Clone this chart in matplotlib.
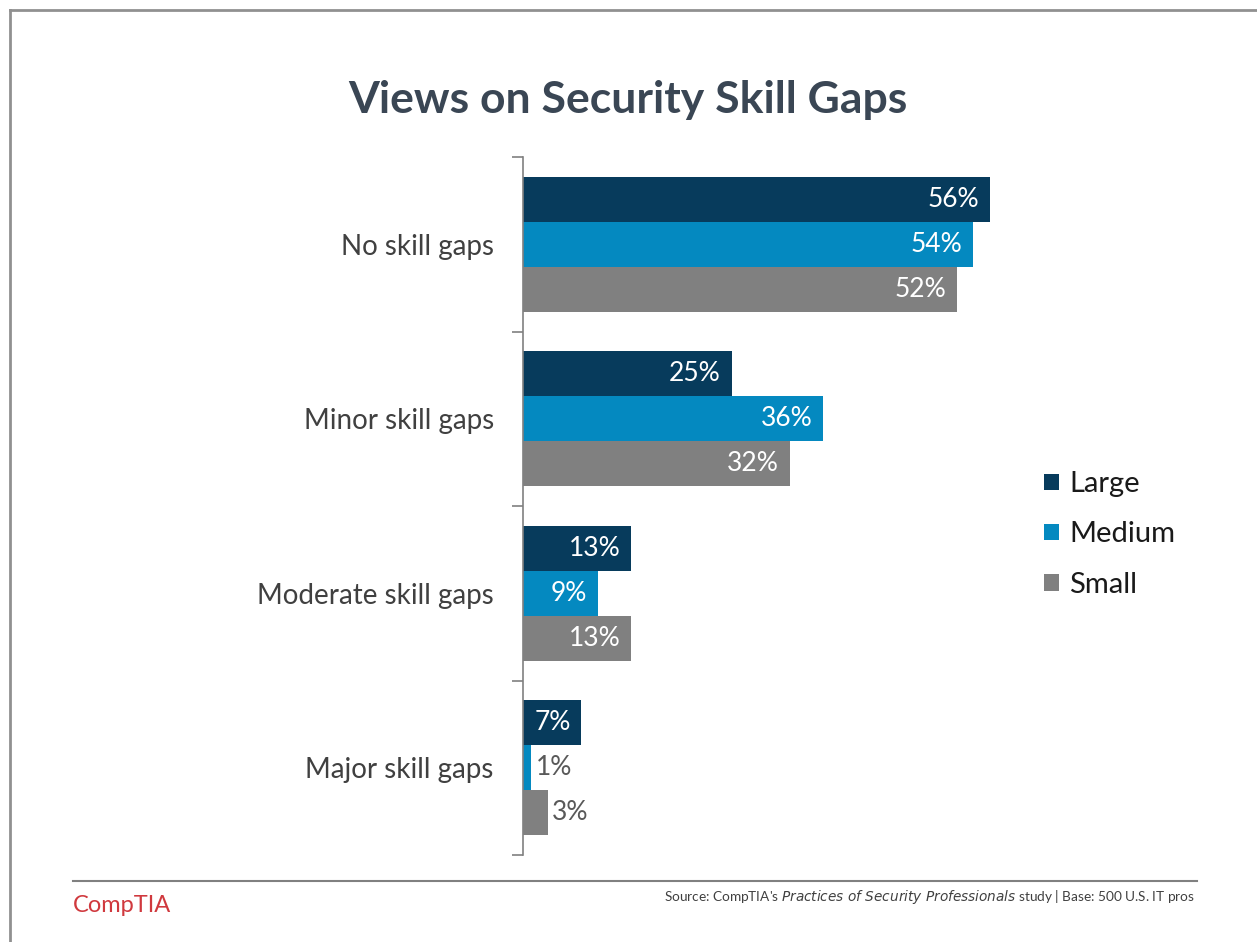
import matplotlib
matplotlib.use("Agg")
import matplotlib.pyplot as plt
import numpy as np
from matplotlib.lines import Line2D
from matplotlib.patches import Patch

plt.rcParams['font.family'] = ['Lato', 'DejaVu Sans']

categories = ["No skill gaps", "Minor skill gaps", "Moderate skill gaps", "Major skill gaps"]
series = ["Large", "Medium", "Small"]
large = [56, 25, 13, 7]
medium = [54, 36, 9, 1]
small = [52, 32, 13, 3]
colors = ["#073b5c", "#0489c0", "#808080"]

W, H = 1257, 942
fig = plt.figure(figsize=(W / 100, H / 100), dpi=100)

# axes placed in pixel terms of the reference
ax = fig.add_axes([523 / W, 1 - 855 / H, 480 / W, (855 - 157) / H])

n = len(categories)
y = np.arange(n)
bh = 0.258
vals = [large, medium, small]
for i, (name, v, c) in enumerate(zip(series, vals, colors)):
    pos = y - bh + i * bh
    bars = ax.barh(pos, v, height=bh, color=c, label=name)
    for b, val in zip(bars, v):
        if val >= 5:
            ax.text(b.get_width() - 1.3, b.get_y() + b.get_height() / 2, f"{val}%",
                    ha="right", va="center", color="white", fontsize=19)
        else:
            ax.text(b.get_width() + 0.5, b.get_y() + b.get_height() / 2, f"{val}%",
                    ha="left", va="center", color="#595959", fontsize=19)

ax.set_xlim(0, 480 / 8.34)
ax.set_ylim(n - 0.5, -0.5)
ax.set_yticks(y)
ax.set_yticklabels(categories, fontsize=20, color="#404040")
ax.tick_params(axis="y", length=0, pad=21)
ax.set_yticks(np.arange(n + 1) - 0.5, minor=True)
ax.tick_params(axis="y", which="minor", length=8, color="#808080", width=1.2)
ax.set_xticks([])
for s in ["top", "right", "bottom"]:
    ax.spines[s].set_visible(False)
ax.spines["left"].set_color("#808080")
ax.spines["left"].set_linewidth(1.2)

handles = [Patch(facecolor=c, label=s) for s, c in zip(series, colors)]
fig.legend(handles=handles, loc="upper left", bbox_to_anchor=(1018 / W, 1 - 445 / H),
           frameon=False, fontsize=21, handlelength=0.5, handleheight=0.5,
           handletextpad=0.35, labelspacing=0.83, labelcolor="#1a1a1a")

fig.text(628 / W, 1 - 100 / H, "Views on Security Skill Gaps", ha="center", va="center",
         fontsize=32, fontweight="bold", color="#3a4654")

# frame lines and footer
fig.add_artist(Line2D([10 / W, 1], [1 - 10 / H, 1 - 10 / H], color="#909090", lw=2))
fig.add_artist(Line2D([10 / W, 10 / W], [0, 1 - 10 / H], color="#909090", lw=2))
fig.add_artist(Line2D([73 / W, 1197 / W], [1 - 881 / H, 1 - 881 / H], color="#808080", lw=1.5))
fig.text(73 / W, 1 - 905 / H, "CompTIA", ha="left", va="center", fontsize=17,
         color="#d0393e")
fig.text(1195 / W, 1 - 897 / H,
         "Source: CompTIA's $\\it{Practices\\ of\\ Security\\ Professionals}$ study | Base: 500 U.S. IT pros",
         ha="right", va="center", fontsize=9.8, color="#404040")

fig.savefig("out.png", dpi=100, facecolor="white")
